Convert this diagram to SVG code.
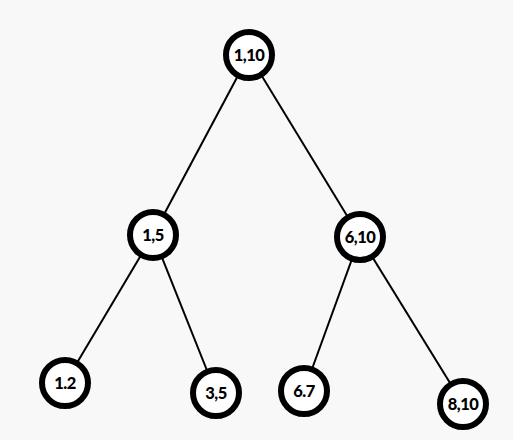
<svg xmlns="http://www.w3.org/2000/svg" width="513" height="440" viewBox="0 0 513 440">
<style>
.n circle{fill:#ffffff;stroke:#000000;stroke-width:6}
.n text{font-family:Lato,"Liberation Sans",sans-serif;font-weight:900;font-size:16.5px;letter-spacing:-0.5px;fill:#000;text-anchor:middle;dominant-baseline:central}
.e line{stroke:#000;stroke-width:2}
</style>
<rect width="513" height="440" fill="#f8f8f8"/>
<g id="edges" class="e">
<line x1="249" y1="55" x2="153" y2="235"/>
<line x1="249" y1="55" x2="360" y2="237"/>
<line x1="153" y1="235" x2="65" y2="383"/>
<line x1="153" y1="235" x2="216" y2="393"/>
<line x1="360" y1="237" x2="304" y2="391"/>
<line x1="360" y1="237" x2="463" y2="404"/>
</g>
<g id="n110" class="n"><circle cx="249" cy="55" r="23"/><text x="249" y="55">1,10</text></g>
<g id="n15" class="n"><circle cx="153" cy="235" r="23"/><text x="153" y="235">1,5</text></g>
<g id="n610" class="n"><circle cx="360" cy="237" r="23"/><text x="360" y="237">6,10</text></g>
<g id="n12" class="n"><circle cx="65" cy="383" r="23"/><text x="65" y="383">1.2</text></g>
<g id="n35" class="n"><circle cx="216" cy="393" r="23"/><text x="216" y="393">3,5</text></g>
<g id="n67" class="n"><circle cx="304" cy="391" r="23"/><text x="304" y="391">6.7</text></g>
<g id="n810" class="n"><circle cx="463" cy="404" r="23"/><text x="463" y="404">8,10</text></g>
</svg>
